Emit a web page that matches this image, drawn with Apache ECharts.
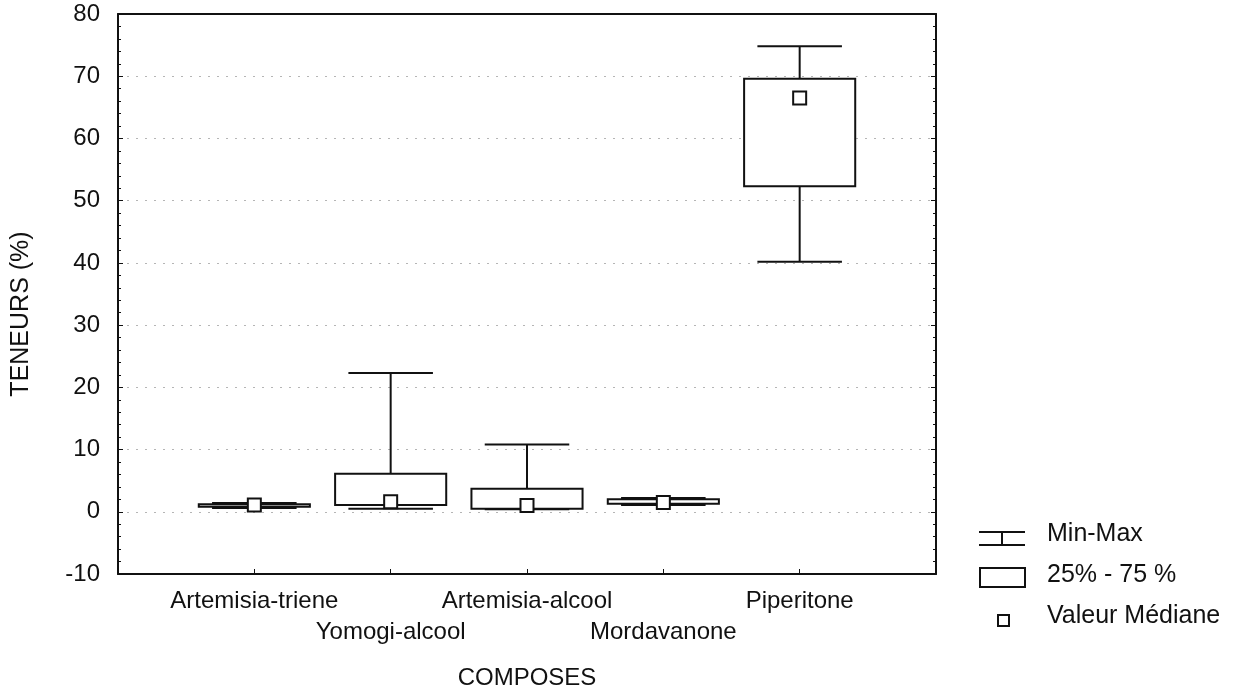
<!DOCTYPE html>
<html>
<head>
<meta charset="utf-8">
<title>Teneurs des composés</title>
<script src="https://cdn.jsdelivr.net/npm/echarts@6/dist/echarts.min.js"></script>
<style>
  html, body { margin: 0; padding: 0; background: #fff; }
  #chart { width: 1248px; height: 696px; }
</style>
</head>
<body>
<div id="chart"></div>
<script>
// valeurs (en %)
const categories = ['Artemisia-triene', 'Yomogi-alcool', 'Artemisia-alcool', 'Mordavanone', 'Piperitone'];
const minVals    = [0.6, 0.5, 0.4, 1.1, 40.2];
const q1Vals     = [0.8, 1.1, 0.5, 1.3, 52.3];
const medianVals = [1.1, 1.6, 1.0, 1.5, 66.5];
const q3Vals     = [1.2, 6.1, 3.7, 2.0, 69.6];
const maxVals    = [1.4, 22.3, 10.8, 2.2, 74.8];
const yMin = -10, yMax = 80, yStep = 10;

const ink = '#111';
const font = 'Liberation Sans, Arial, sans-serif';

// une case vide de chaque côté : les boîtes tombent sur 1..5
const slots = [''].concat(categories, ['']);
const boxData = categories.map((c, i) => [i + 1, minVals[i], q1Vals[i], medianVals[i], q3Vals[i], maxVals[i]]);

var myChart = echarts.init(document.getElementById('chart'));

function whiskers(params, api) {
  const x = api.value(0);
  const w = api.size([1, 0])[0] * 0.62;
  const pMin = api.coord([x, api.value(1)]);
  const pQ1 = api.coord([x, api.value(2)]);
  const pQ3 = api.coord([x, api.value(4)]);
  const pMax = api.coord([x, api.value(5)]);
  const st = { stroke: ink, lineWidth: 2 };
  return {
    type: 'group',
    children: [
      { type: 'line', shape: { x1: pMax[0], y1: pMax[1], x2: pQ3[0], y2: pQ3[1] }, style: st },
      { type: 'line', shape: { x1: pMin[0], y1: pMin[1], x2: pQ1[0], y2: pQ1[1] }, style: st },
      { type: 'line', shape: { x1: pMax[0] - w / 2, y1: pMax[1], x2: pMax[0] + w / 2, y2: pMax[1] }, style: st },
      { type: 'line', shape: { x1: pMin[0] - w / 2, y1: pMin[1], x2: pMin[0] + w / 2, y2: pMin[1] }, style: st }
    ]
  };
}

function boxes(params, api) {
  const x = api.value(0);
  const w = api.size([1, 0])[0] * 0.815;
  const pQ1 = api.coord([x, api.value(2)]);
  const pQ3 = api.coord([x, api.value(4)]);
  return {
    type: 'rect',
    shape: { x: pQ3[0] - w / 2, y: pQ3[1], width: w, height: Math.max(pQ1[1] - pQ3[1], 1) },
    style: { fill: '#fff', stroke: ink, lineWidth: 2 }
  };
}

function medians(params, api) {
  const p = api.coord([api.value(0), api.value(3)]);
  const s = 13;
  return {
    type: 'rect',
    shape: { x: p[0] - s / 2, y: p[1] - s / 2, width: s, height: s },
    style: { fill: '#fff', stroke: ink, lineWidth: 2 }
  };
}

const labelStyle = { color: ink, fontSize: 24, fontFamily: font };
const legendFont = '25px ' + font;

var option = {
  backgroundColor: '#fff',
  animation: false,
  grid: { left: 118, right: 312, top: 14, bottom: 122 },
  xAxis: [
    {
      type: 'category',
      data: slots,
      boundaryGap: false,
      name: 'COMPOSES',
      nameLocation: 'middle',
      nameGap: 92,
      nameTextStyle: labelStyle,
      axisLine: { onZero: false, lineStyle: { color: ink, width: 2 } },
      axisTick: { inside: true, length: 5, lineStyle: { color: ink } },
      axisLabel: Object.assign({
        interval: 0,
        margin: 12,
        lineHeight: 31,
        formatter: (v, i) => (v === '' ? '' : (i % 2 === 0 ? '\n' + v : v))
      }, labelStyle),
      splitLine: { show: false }
    },
    {
      type: 'category',
      data: slots,
      boundaryGap: false,
      position: 'top',
      axisLine: { onZero: false, lineStyle: { color: ink, width: 2 } },
      axisTick: { show: false },
      axisLabel: { show: false },
      splitLine: { show: false }
    }
  ],
  yAxis: [
    {
      type: 'value',
      min: yMin,
      max: yMax,
      interval: yStep,
      name: 'TENEURS (%)',
      nameLocation: 'middle',
      nameRotate: 90,
      nameGap: 84,
      nameTextStyle: Object.assign({ padding: [0, 40, 0, 0] }, labelStyle, { fontSize: 25 }),
      axisLine: { show: true, onZero: false, lineStyle: { color: ink, width: 2 } },
      axisTick: { show: true, inside: true, length: 5, lineStyle: { color: ink } },
      minorTick: { show: true, splitNumber: 5, length: 3, lineStyle: { color: ink } },
      axisLabel: Object.assign({ margin: 18 }, labelStyle),
      splitLine: { show: true, lineStyle: { color: '#b5b5b5', width: 1, type: [2, 7] } }
    },
    {
      type: 'value',
      min: yMin,
      max: yMax,
      interval: yStep,
      position: 'right',
      axisLine: { show: true, onZero: false, lineStyle: { color: ink, width: 2 } },
      axisTick: { show: true, inside: true, length: 5, lineStyle: { color: ink } },
      minorTick: { show: true, splitNumber: 5, length: 3, lineStyle: { color: ink } },
      axisLabel: { show: false },
      splitLine: { show: false }
    }
  ],
  series: [
    { name: 'Min-Max', type: 'custom', renderItem: whiskers, data: boxData, encode: { x: 0, y: [1, 5] }, z: 2 },
    { name: '25% - 75 %', type: 'custom', renderItem: boxes, data: boxData, encode: { x: 0, y: [2, 4] }, z: 3 },
    { name: 'Valeur Médiane', type: 'custom', renderItem: medians, data: boxData, encode: { x: 0, y: 3 }, z: 4 }
  ],
  // légende dessinée à la main, comme dans l'original
  graphic: [
    { type: 'line', shape: { x1: 979, y1: 532, x2: 1025, y2: 532 }, style: { stroke: ink, lineWidth: 2 } },
    { type: 'line', shape: { x1: 979, y1: 545, x2: 1025, y2: 545 }, style: { stroke: ink, lineWidth: 2 } },
    { type: 'line', shape: { x1: 1002, y1: 532, x2: 1002, y2: 545 }, style: { stroke: ink, lineWidth: 2 } },
    { type: 'text', left: 1047, top: 522, style: { text: 'Min-Max', fill: ink, font: legendFont } },
    { type: 'rect', shape: { x: 980, y: 568, width: 45, height: 19 }, style: { fill: '#fff', stroke: ink, lineWidth: 2 } },
    { type: 'text', left: 1047, top: 563, style: { text: '25% - 75 %', fill: ink, font: legendFont } },
    { type: 'rect', shape: { x: 998, y: 615, width: 11, height: 11 }, style: { fill: '#fff', stroke: ink, lineWidth: 2 } },
    { type: 'text', left: 1047, top: 604, style: { text: 'Valeur Médiane', fill: ink, font: legendFont } }
  ]
};

myChart.setOption(option);
</script>
</body>
</html>
